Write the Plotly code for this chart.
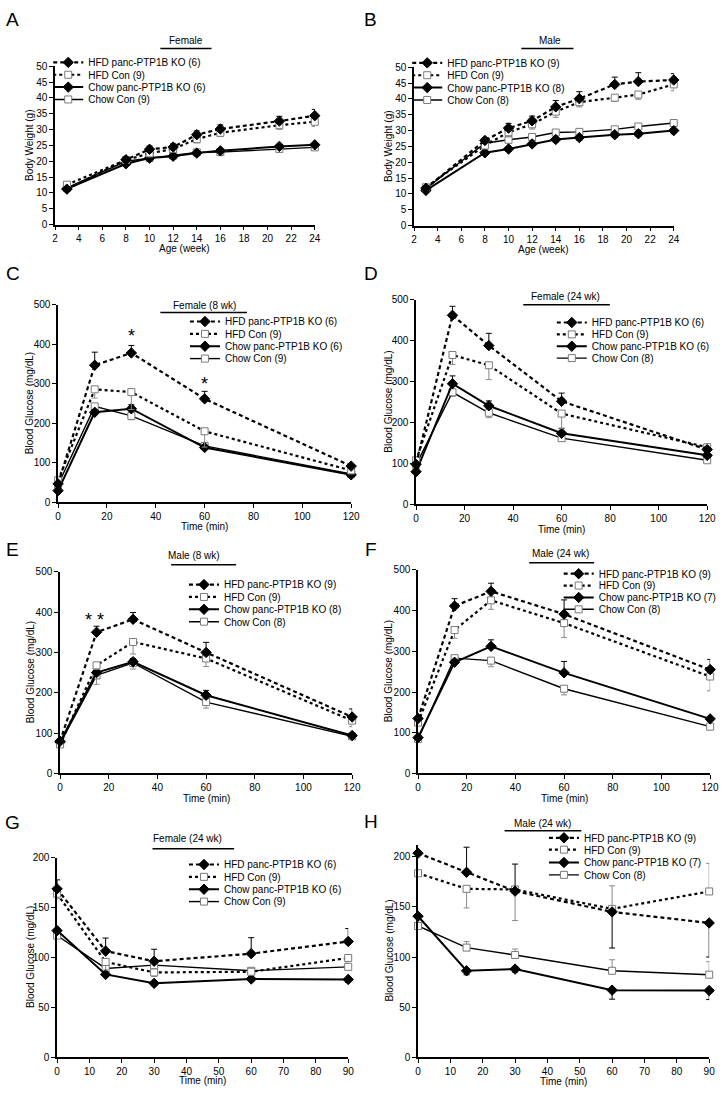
import plotly.graph_objects as go

W, H = 728, 1095
FONT = "Liberation Sans, Arial, sans-serif"

SERIES = ["HFD panc-PTP1B KO", "HFD Con", "Chow panc-PTP1B KO", "Chow Con"]

# ---------------- Panel A: Female body weight ----------------
a_x = [3, 8, 10, 12, 14, 16, 21, 24]
a_hfd_ko = [11.2, 20.5, 23.8, 24.5, 28.4, 30.2, 32.7, 34.4]
a_hfd_con = [12.6, 20.4, 22.5, 23.9, 27.0, 29.0, 31.4, 32.5]
a_chow_ko = [11.3, 19.2, 21.0, 21.6, 22.6, 23.3, 24.7, 25.2]
a_chow_con = [11.6, 20.0, 21.0, 21.8, 22.8, 22.9, 23.9, 24.4]
a_err_hfd_ko = [0.8, 0.8, 1.0, 1.0, 1.2, 1.3, 1.5, 2.0]
a_err_hfd_con = [-0.8, -0.8, -1.0, -1.0, -1.2, -1.2, -1.3, -1.5]
a_err_chow_ko = [0.4, 0.5, 0.5, 0.5, 0.5, 0.5, 0.6, 0.6]
a_err_chow_con = [-0.4, -0.5, -0.5, -0.5, -0.5, -0.5, -0.6, -0.6]
a_n = [6, 9, 6, 9]

# ---------------- Panel B: Male body weight ----------------
b_x = [3, 8, 10, 12, 14, 16, 19, 21, 24]
b_hfd_ko = [11.8, 26.9, 30.8, 33.1, 37.5, 40.1, 44.6, 45.5, 46.0]
b_hfd_con = [12.1, 25.3, 29.5, 32.0, 36.0, 39.0, 40.4, 41.4, 44.6]
b_chow_ko = [11.1, 23.0, 24.2, 25.8, 27.2, 27.8, 28.7, 29.0, 30.0]
b_chow_con = [11.7, 26.0, 27.1, 28.0, 29.4, 29.6, 30.4, 31.3, 32.4]
b_err_hfd_ko = [0.6, 0.8, 1.5, 1.5, 2.0, 2.2, 2.3, 2.8, 2.0]
b_err_hfd_con = [-0.6, -0.8, -1.5, -1.5, -1.8, -1.5, -1.2, -1.5, -2.0]
b_err_chow_ko = [-0.4, -0.6, -0.8, -0.8, -0.8, -0.8, -0.8, -0.8, -1.0]
b_err_chow_con = [0.4, 0.6, 0.8, 0.8, 0.8, 0.8, 0.8, 0.8, 1.0]
b_n = [9, 9, 8, 8]

# ---------------- Panel C: Female GTT (8 wk) ----------------
c_x = [0, 15, 30, 60, 120]
c_hfd_ko = [47, 347, 378, 262, 92]
c_hfd_con = [56, 286, 279, 180, 81]
c_chow_ko = [30, 228, 237, 139, 70]
c_chow_con = [45, 243, 219, 143, 72]
c_err_hfd_ko = [5, 33, 19, 19, 5]
c_err_hfd_con = [-4, -22, -44, -40, -4]
c_err_chow_ko = [3, 6, 10, 5, 3]
c_err_chow_con = [-3, -6, -10, -5, -3]
c_n = [6, 9, 6, 9]

# ---------------- Panel D: Female GTT (24 wk) ----------------
d_x = [0, 15, 30, 60, 120]
d_hfd_ko = [98, 462, 388, 252, 134]
d_hfd_con = [108, 365, 340, 222, 140]
d_chow_ko = [80, 295, 241, 174, 120]
d_chow_con = [97, 274, 224, 162, 108]
d_err_hfd_ko = [5, 22, 30, 20, 6]
d_err_hfd_con = [-5, -23, -35, -36, -6]
d_err_chow_ko = [3, 19, 12, 12, 4]
d_err_chow_con = [-3, -10, -12, -8, -4]
d_n = [6, 9, 6, 8]

# ---------------- Panel E: Male GTT (8 wk) ----------------
e_x = [0, 15, 30, 60, 120]
e_hfd_ko = [80, 350, 382, 300, 140]
e_hfd_con = [72, 268, 326, 285, 131]
e_chow_ko = [78, 250, 277, 194, 94]
e_chow_con = [74, 243, 274, 177, 92]
e_err_hfd_ko = [5, 15, 17, 25, 20]
e_err_hfd_con = [-4, -10, -30, -20, -15]
e_err_chow_ko = [3, 8, 8, 12, 4]
e_err_chow_con = [-3, -22, -15, -15, -4]
e_n = [9, 9, 8, 8]

# ---------------- Panel F: Male GTT (24 wk) ----------------
f_x = [0, 15, 30, 60, 120]
f_hfd_ko = [135, 411, 447, 391, 255]
f_hfd_con = [125, 352, 425, 369, 238]
f_chow_ko = [88, 273, 312, 247, 134]
f_chow_con = [85, 283, 277, 208, 115]
f_err_hfd_ko = [5, 18, 20, 35, 25]
f_err_hfd_con = [-5, -20, -22, -35, -35]
f_err_chow_ko = [3, 6, 16, 28, 5]
f_err_chow_con = [-3, -6, -15, -15, -8]
f_n = [9, 9, 7, 8]

# ---------------- Panel G: Female ITT (24 wk) ----------------
g_x = [0, 15, 30, 60, 90]
g_hfd_ko = [168.7, 106.4, 96.2, 103.8, 116.0]
g_hfd_con = [163.8, 95.5, 85.0, 85.7, 99.5]
g_chow_ko = [126.9, 83.0, 74.1, 78.4, 78.0]
g_chow_con = [121.9, 89.0, 92.3, 86.7, 90.6]
g_err_hfd_ko = [9, 13, 12, 16, 13]
g_err_hfd_con = [-5, -8, -4, -3, -4]
g_err_chow_ko = [-3, -2, -2, -2, -3]
g_err_chow_con = [3, 3, 3, 3, 3]
g_n = [6, 9, 6, 9]

# ---------------- Panel H: Male ITT (24 wk) ----------------
h_x = [0, 15, 30, 60, 90]
h_hfd_ko = [203.6, 184.5, 165.7, 145.0, 134.0]
h_hfd_con = [183.5, 168.0, 167.4, 148.0, 165.4]
h_chow_ko = [140.7, 86.3, 88.0, 67.0, 66.6]
h_chow_con = [131.0, 109.4, 102.0, 86.3, 82.4]
h_err_hfd_ko = [2, 25, 27, -36, -34]
h_err_hfd_con = [-2, -19, -31, 23, 28]
h_err_chow_ko = [-2, -4, -3, -9, -9]
h_err_chow_con = [2, 6, 6, 11, 13]
h_n = [9, 9, 7, 8]

# ---------------- Layout description (pixels) ----------------
PANELS = [
    dict(letter="A", x=a_x, ys=[a_hfd_ko, a_hfd_con, a_chow_ko, a_chow_con],
         errs=[a_err_hfd_ko, a_err_hfd_con, a_err_chow_ko, a_err_chow_con], n=a_n,
         box=(53, 317, 61, 221), xr=[2, 24], xt=list(range(2, 25, 2)), yr=[0, 50], yt=list(range(0, 51, 5)),
         xtitle="Age (week)", ytitle="Body Weight (g)", title="Female",
         tpos=(186, 35), uline=(160, 212, 43), lx=89, rows=[61, 73.5, 86, 98.5],
         lpos=(10, 14), xtpos=245, ytpos=27, stars=[]),
    dict(letter="B", x=b_x, ys=[b_hfd_ko, b_hfd_con, b_chow_ko, b_chow_con],
         errs=[b_err_hfd_ko, b_err_hfd_con, b_err_chow_ko, b_err_chow_con], n=b_n,
         box=(418, 682, 62, 222), xr=[2, 24], xt=list(range(2, 25, 2)), yr=[0, 50], yt=list(range(0, 51, 5)),
         xtitle="Age (week)", ytitle="Body Weight (g)", title="Male",
         tpos=(556, 35), uline=(527, 580, 43), lx=454, rows=[61.5, 74, 86.5, 99],
         lpos=(374, 14), xtpos=246, ytpos=392, stars=[]),
    dict(letter="C", x=c_x, ys=[c_hfd_ko, c_hfd_con, c_chow_ko, c_chow_con],
         errs=[c_err_hfd_ko, c_err_hfd_con, c_err_chow_ko, c_err_chow_con], n=c_n,
         box=(56, 354, 302, 502), xr=[0, 120], xt=list(range(0, 121, 20)), yr=[0, 500], yt=list(range(0, 501, 100)),
         xtitle="Time (min)", ytitle="Blood Glucose (mg/dL)", title="Female (8 wk)",
         tpos=(205, 303), uline=(160, 248, 310), lx=228, rows=[323, 335.5, 348, 360.5],
         lpos=(10, 270), xtpos=526, ytpos=27, stars=[(30, 422, "*"), (60, 300, "*")]),
    dict(letter="D", x=d_x, ys=[d_hfd_ko, d_hfd_con, d_chow_ko, d_chow_con],
         errs=[d_err_hfd_ko, d_err_hfd_con, d_err_chow_ko, d_err_chow_con], n=d_n,
         box=(420, 716, 297, 504), xr=[0, 120], xt=list(range(0, 121, 20)), yr=[0, 500], yt=list(range(0, 501, 100)),
         xtitle="Time (min)", ytitle="Blood Glucose (mg/dL)", title="Female (24 wk)",
         tpos=(572, 294), uline=(529, 617, 302), lx=601, rows=[324, 336, 348, 360],
         lpos=(374, 270), xtpos=529, ytpos=392, stars=[(15, 511, "*")]),
    dict(letter="E", x=e_x, ys=[e_hfd_ko, e_hfd_con, e_chow_ko, e_chow_con],
         errs=[e_err_hfd_ko, e_err_hfd_con, e_err_chow_ko, e_err_chow_con], n=e_n,
         box=(58, 355, 572, 776), xr=[0, 120], xt=list(range(0, 121, 20)), yr=[0, 500], yt=list(range(0, 501, 100)),
         xtitle="Time (min)", ytitle="Blood Glucose (mg/dL)", title="Male (8 wk)",
         tpos=(194, 556), uline=(171, 237, 565), lx=227, rows=[589, 601.5, 614, 626.5],
         lpos=(10, 550), xtpos=801, ytpos=28, stars=[(14, 380, "* *")]),
    dict(letter="F", x=f_x, ys=[f_hfd_ko, f_hfd_con, f_chow_ko, f_chow_con],
         errs=[f_err_hfd_ko, f_err_hfd_con, f_err_chow_ko, f_err_chow_con], n=f_n,
         box=(422, 719, 570, 776), xr=[0, 120], xt=list(range(0, 121, 20)), yr=[0, 500], yt=list(range(0, 501, 100)),
         xtitle="Time (min)", ytitle="Blood Glucose (mg/dL)", title="Male (24 wk)",
         tpos=(567, 554), uline=(535, 601, 563), lx=608, rows=[578, 590, 602, 614],
         lpos=(374, 550), xtpos=801, ytpos=392, stars=[]),
    dict(letter="G", x=g_x, ys=[g_hfd_ko, g_hfd_con, g_chow_ko, g_chow_con],
         errs=[g_err_hfd_ko, g_err_hfd_con, g_err_chow_ko, g_err_chow_con], n=g_n,
         box=(55, 351, 861, 1063), xr=[0, 90], xt=list(range(0, 91, 10)), yr=[0, 200], yt=list(range(0, 201, 50)),
         xtitle="Time (min)", ytitle="Blood Glucose (mg/dL)", title="Female (24 wk)",
         tpos=(188, 842), uline=(152, 235, 852), lx=227, rows=[872, 884.5, 897, 909.5],
         lpos=(10, 826), xtpos=1086, ytpos=28, stars=[]),
    dict(letter="H", x=h_x, ys=[h_hfd_ko, h_hfd_con, h_chow_ko, h_chow_con],
         errs=[h_err_hfd_ko, h_err_hfd_con, h_err_chow_ko, h_err_chow_con], n=h_n,
         box=(422, 718, 848, 1063), xr=[0, 90], xt=list(range(0, 91, 10)), yr=[0, 212], yt=list(range(0, 201, 50)),
         xtitle="Time (min)", ytitle="Blood Glucose (mg/dL)", title="Male (24 wk)",
         tpos=(549, 827), uline=(510, 588, 834), lx=593, rows=[845, 857, 870, 882.5],
         lpos=(374, 825), xtpos=1087, ytpos=392, stars=[]),
]

STYLES = [
    dict(symbol="diamond", mcolor="black", mline="black", size=8, dash="4px,3px", width=2.2, ecolor="black"),
    dict(symbol="square", mcolor="white", mline="#7a7a7a", size=7, dash="3px,3px", width=2.2, ecolor="#8a8a8a"),
    dict(symbol="diamond", mcolor="black", mline="black", size=8, dash="solid", width=2.0, ecolor="black"),
    dict(symbol="square", mcolor="white", mline="#7a7a7a", size=7, dash="solid", width=1.4, ecolor="#8a8a8a"),
]

LEG_TEXT_OFF = 43   # distance from legend left edge to legend text start
LEG_Y_OFF = 4       # vertical correction for legend centering


def px(x):
    return x / W


def py(y):
    return 1 - y / H


fig = go.Figure()
layout = dict(width=W, height=H, margin=dict(l=0, r=0, t=0, b=0),
              paper_bgcolor="white", plot_bgcolor="white",
              font=dict(family=FONT, size=10, color="black"))
annotations = []
shapes = []

for i, p in enumerate(PANELS, start=1):
    xa = "x" if i == 1 else f"x{i}"
    ya = "y" if i == 1 else f"y{i}"
    x0, x1, y0, y1 = p["box"]
    axis_common = dict(showline=True, linecolor="black", linewidth=1.5, ticks="outside",
                       ticklen=4, tickwidth=1, tickcolor="black", showgrid=False, zeroline=False,
                       tickfont=dict(family=FONT, size=10, color="black"), fixedrange=True)
    layout["xaxis" if i == 1 else f"xaxis{i}"] = dict(
        domain=[px(x0), px(x1)], range=p["xr"], tickvals=p["xt"], anchor=ya, **axis_common)
    layout["yaxis" if i == 1 else f"yaxis{i}"] = dict(
        domain=[py(y1), py(y0)], range=p["yr"], tickvals=p["yt"], anchor=xa, **axis_common)

    for k in [3, 2, 1, 0]:
        st = STYLES[k]
        errs = p["errs"][k]
        up = [max(e, 0) for e in errs]
        dn = [max(-e, 0) for e in errs]
        leg_idx_k = (i - 1) * 4 + k + 1
        lname = "legend" if leg_idx_k == 1 else f"legend{leg_idx_k}"
        fig.add_trace(go.Scatter(
            x=p["x"], y=p["ys"][k], xaxis=xa, yaxis=ya, mode="lines+markers",
            name=f"{SERIES[k]} ({p['n'][k]})", legend=lname, cliponaxis=False,
            line=dict(color="black", width=st["width"], dash=st["dash"]),
            marker=dict(symbol=st["symbol"], size=st["size"], color=st["mcolor"],
                        line=dict(color=st["mline"], width=1)),
            error_y=dict(type="data", symmetric=False, array=up, arrayminus=dn,
                         color=st["ecolor"], thickness=1, width=3),
        ))
        layout[lname] = dict(x=px(p["lx"] - LEG_TEXT_OFF), y=py(p["rows"][k] - LEG_Y_OFF),
                             xanchor="left", yanchor="middle",
                             bgcolor="rgba(0,0,0,0)", borderwidth=0,
                             font=dict(family=FONT, size=10, color="black"))

    annotations.append(dict(text=p["letter"], x=px(p["lpos"][0]), y=py(p["lpos"][1]), xref="paper", yref="paper",
                            showarrow=False, xanchor="center", yanchor="middle",
                            font=dict(family=FONT, size=19, color="black")))
    annotations.append(dict(text=p["title"], x=px(p["tpos"][0]), y=py(p["tpos"][1]), xref="paper", yref="paper",
                            showarrow=False, xanchor="center", yanchor="middle",
                            font=dict(family=FONT, size=10, color="black")))
    ux0, ux1, uy = p["uline"]
    shapes.append(dict(type="line", xref="paper", yref="paper", x0=px(ux0), x1=px(ux1), y0=py(uy), y1=py(uy),
                       line=dict(color="black", width=1.5)))
    annotations.append(dict(text=p["xtitle"], x=px((x0 + x1) / 2), y=py(p["xtpos"]), xref="paper", yref="paper",
                            showarrow=False, xanchor="center", yanchor="middle",
                            font=dict(family=FONT, size=10, color="black")))
    annotations.append(dict(text=p["ytitle"], x=px(p["ytpos"]), y=py((y0 + y1) / 2), xref="paper", yref="paper",
                            showarrow=False, xanchor="center", yanchor="middle", textangle=-90,
                            font=dict(family=FONT, size=10, color="black")))
    for sx, sy, stxt in p["stars"]:
        annotations.append(dict(text=stxt, x=sx, y=sy, xref=xa, yref=ya, showarrow=False,
                                xanchor="center", yanchor="middle", yshift=0,
                                font=dict(family=FONT, size=18, color="black")))

layout["annotations"] = annotations
layout["shapes"] = shapes
layout["showlegend"] = True
fig.update_layout(**layout)
fig.write_html("out.html", config={"displayModeBar": False},
               post_script="document.body.style.margin='0px';document.body.style.padding='0px';")
